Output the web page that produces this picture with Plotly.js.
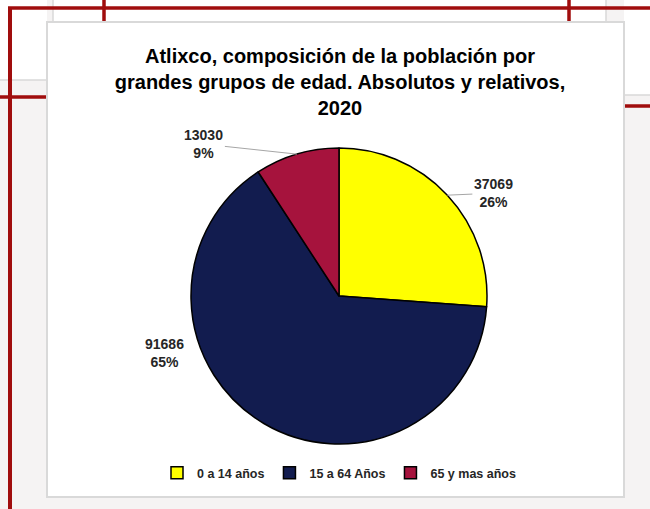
<!DOCTYPE html>
<html>
<head>
<meta charset="utf-8">
<script src="https://cdn.plot.ly/plotly-3.0.1.min.js"></script>
<style>html,body{margin:0;padding:0;background:#f5f3f3;}#chart{width:650px;height:509px;}</style>
</head>
<body>
<div id="chart"></div>
<script>
// ---- data ----
const categories = ['0 a 14 años', '15 a 64 Años', '65 y mas años'];
const values = [37069, 91686, 13030];
const titleText = 'Atlixco, composición de la población por<br>grandes grupos de edad. Absolutos y relativos,<br>2020';

// ---- styles / layout ----
const sliceColors = ['#ffff00', '#121c4f', '#a6133d'];
const W = 650, H = 509;
const px = x => x / W;
const py = y => 1 - y / H;
const FONT = 'Liberation Sans, Arial, sans-serif';

const cx = 339, cy = 296, r = 148;

const total = values.reduce((a, b) => a + b, 0);
const pct = values.map(v => Math.round(v / total * 100) + '%');

// mid angles (clockwise from 12 o'clock)
const mids = [];
let acc = 0;
values.forEach(v => { const a = v / total * 360; mids.push(acc + a / 2); acc += a; });
const edge = i => {
  const t = mids[i] * Math.PI / 180;
  return [cx + r * Math.sin(t), cy - r * Math.cos(t)];
};

const labelFont = {family: FONT, size: 14, color: '#262626', weight: 'bold'};
const annotations = [];
// yellow label with leader
(function(){ const e = edge(0); annotations.push({xref:'paper', yref:'paper', x:px(e[0]), y:py(e[1]),
  text: values[0] + '<br>' + pct[0], showarrow:true, arrowhead:0, arrowwidth:1, arrowcolor:'#a6a6a6',
  ax:46, ay:-2, font:labelFont, align:'center'}); })();
// blue label (no leader)
annotations.push({xref:'paper', yref:'paper', x:px(164), y:py(353), xanchor:'center', yanchor:'middle',
  text: values[1] + '<br>' + pct[1], showarrow:false, font:labelFont, align:'center'});
// red label with leader
(function(){ const e = edge(2); annotations.push({xref:'paper', yref:'paper', x:px(e[0]), y:py(e[1]),
  text: values[2] + '<br>' + pct[2], showarrow:true, arrowhead:0, arrowwidth:1, arrowcolor:'#a6a6a6',
  ax:-93, ay:-10, font:labelFont, align:'center'}); })();

const red = '#a00d0d', gray = '#d9d9d9';
const line = (x0, y0, x1, y1, c, w) => ({type:'line', xref:'paper', yref:'paper', layer:'below',
  x0:px(x0), y0:py(y0), x1:px(x1), y1:py(y1), line:{color:c, width:w}});
const rect = (x0, y0, x1, y1, fill, lc, lw) => ({type:'rect', xref:'paper', yref:'paper', layer:'below',
  x0:px(x0), y0:py(y0), x1:px(x1), y1:py(y1), fillcolor:fill, line:{color:lc || fill, width:lw || 0}});

const shapes = [
  rect(53, 0, 606, 24, '#ffffff'),
  rect(0, 0, 47, 80, '#ffffff'),
  rect(624, 0, 650, 95, '#ffffff'),
  line(53, 0, 53, 24, gray, 1.5),
  line(606, 0, 606, 24, gray, 1.5),
  line(0, 80, 47, 80, gray, 1.5),
  line(624, 95, 650, 95, gray, 1.5),
  line(8, 8, 650, 8, red, 3.5),
  line(10, 8, 10, 509, red, 4),
  line(104, 0, 104, 24, red, 3.5),
  line(569, 0, 569, 24, red, 3.5),
  line(0, 97, 47, 97, red, 3.5),
  line(624, 106, 650, 106, red, 3.5),
  rect(47, 22, 624, 497, '#ffffff', gray, 2)
];

const trace = {
  type: 'pie',
  labels: categories,
  values: values,
  sort: false,
  direction: 'clockwise',
  rotation: 0,
  textinfo: 'none',
  hoverinfo: 'label+value+percent',
  marker: {colors: sliceColors, line: {color: '#000000', width: 1.5}},
  domain: {x: [px(cx - r), px(cx + r)], y: [py(cy + r), py(cy - r)]}
};

const layout = {
  width: W, height: H,
  margin: {l: 0, r: 0, t: 0, b: 0},
  paper_bgcolor: '#f5f3f3',
  title: {text: titleText, font: {family: FONT, size: 20, color: '#000000', weight: 'bold'},
    x: px(340), xanchor: 'center', y: py(63), yanchor: 'middle'},
  showlegend: true,
  legend: {orientation: 'h', x: px(339), xanchor: 'center', y: py(473), yanchor: 'middle',
    font: {family: FONT, size: 12.5, color: '#262626', weight: 'bold'}, itemwidth: 30,
    traceorder: 'normal', bgcolor: 'rgba(0,0,0,0)'},
  annotations: annotations,
  shapes: shapes
};

Plotly.newPlot('chart', [trace], layout, {displayModeBar: false, staticPlot: true});
</script>
</body>
</html>
